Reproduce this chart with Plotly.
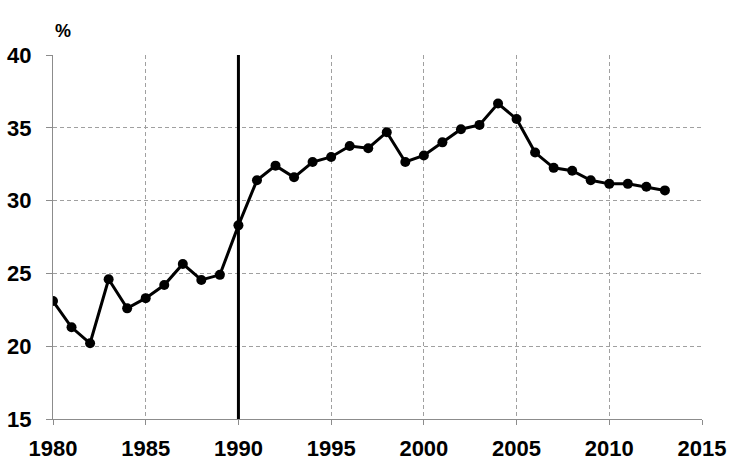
import plotly.graph_objects as go

years = list(range(1980, 2014))
values = [23.1, 21.3, 20.2, 24.6, 22.6, 23.3, 24.2, 25.65, 24.55, 24.9,
          28.3, 31.4, 32.4, 31.6, 32.65, 33.0, 33.75, 33.6, 34.7, 32.65,
          33.1, 34.0, 34.9, 35.2, 36.67, 35.6, 33.3, 32.25, 32.05, 31.4,
          31.15, 31.15, 30.95, 30.7]
x_ticks = [1980, 1985, 1990, 1995, 2000, 2005, 2010, 2015]
y_ticks = [15, 20, 25, 30, 35, 40]
marker_year = 1990
y_unit = "%"

ML, MR, MT, MB = 53, 49, 55, 56
W, H = 751, 475

fig = go.Figure()
fig.add_trace(go.Scatter(
    x=[marker_year, marker_year], y=[15, 40], mode="lines",
    line=dict(color="black", width=3), hoverinfo="skip", showlegend=False))
fig.add_trace(go.Scatter(
    x=years, y=values, mode="lines+markers",
    line=dict(color="black", width=3),
    marker=dict(color="black", size=10),
    showlegend=False))

font_tick = dict(family="Arial", size=22, color="black")
grid = dict(showgrid=True, gridcolor="#a0a0a0", griddash="4px,3px", gridwidth=1,
            showline=True, linecolor="#8c8c8c", linewidth=1,
            ticks="outside", tickcolor="#8c8c8c", zeroline=False, automargin=False)
fig.update_layout(
    width=W, height=H,
    margin=dict(l=ML, r=MR, t=MT, b=MB),
    plot_bgcolor="white", paper_bgcolor="white",
    xaxis=dict(range=[1980, 2015], tickvals=x_ticks, ticktext=[f"<b>{v}</b>" for v in x_ticks],
               ticklen=5, tickfont=font_tick, ticklabelstandoff=5, **grid),
    yaxis=dict(range=[15, 40], tickvals=y_ticks, ticktext=[f"<b>{v}</b>" for v in y_ticks],
               ticklen=6, tickfont=font_tick, ticklabelstandoff=10, **grid),
    annotations=[dict(text=f"<b>{y_unit}</b>",
                      x=(63 - ML) / (W - ML - MR), y=(H - MB - 31) / (H - MT - MB),
                      xref="paper", yref="paper", xanchor="center", yanchor="middle",
                      showarrow=False,
                      font=dict(family="Arial", size=18, color="black"))],
)
fig.write_html("out.html", config={"displayModeBar": False},
               post_script="document.body.style.margin='0px';")
